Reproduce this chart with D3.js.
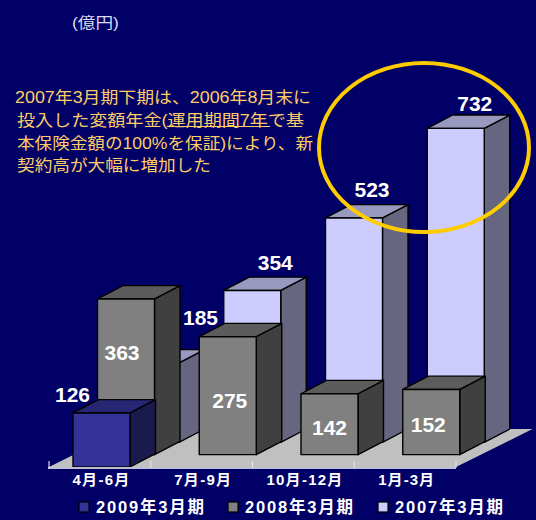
<!DOCTYPE html>
<html><head><meta charset="utf-8">
<script src="https://cdn.jsdelivr.net/npm/d3@7/dist/d3.min.js"></script>
<style>html,body{margin:0;padding:0;background:#000066}svg{display:block}
text{font-family:"Liberation Sans","Noto Sans CJK JP",sans-serif}</style></head>
<body><div id="c"></div>
<script>
const categories = ["4月-6月","7月-9月","10月-12月","1月-3月"];
const seriesNames = ["2009年3月期","2008年3月期","2007年3月期"];
const values2009 = [126,null,null,null];
const values2008 = [363,275,142,152];
const values2007 = [185,354,523,732];
const unitLabel = "(億円)";
const noteLines = ["2007年3月期下期は、2006年8月末に","投入した変額年金(運用期間7年で基","本保険金額の100%を保証)により、新","契約高が大幅に増加した"];
// label nudges from the default position (dx,dy) per series, category
const nudge2009 = [[-29,-11]];
const nudge2008 = [[-4,61],[2,71],[0,41],[-3,43]];
const nudge2007 = [[50,-38],[23,-20],[18,-21],[19,-17]];

const W=536,H=520;
const svg=d3.select("#c").append("svg").attr("width",W).attr("height",H);
svg.append("rect").attr("width",W).attr("height",H).attr("fill","#000066");

const x=d3.scaleBand().domain(categories).range([49,456]);
const h=d3.scaleLinear().domain([0,732]).range([0,314]);
const dxTotal=73.5, dyTotal=37;          // whole floor receding
const rowDx=dxTotal/3, rowDy=dyTotal/3;
const barW=57, inset=24;

// floor
const base=467;
svg.append("polygon").attr("fill","#c0c0c0")
 .attr("points",[[x.range()[0],base],[x.range()[1],base],[x.range()[1]+dxTotal+3,base-dyTotal-1],[x.range()[0]+dxTotal+3,base-dyTotal-1]].join(" "));

const palette=[
 {front:"#333399",side:"#1a1a4d",top:"#262673"},
 {front:"#808080",side:"#404040",top:"#5c5c5c"},
 {front:"#ccccff",side:"#666680",top:"#9999bf"}];
const rows=[values2009,values2008,values2007];
const nudges=[nudge2009,nudge2008,nudge2007];

const g=svg.append("g").attr("stroke","#000").attr("stroke-width",1.4).attr("stroke-linejoin","round");
[2,1,0].forEach(r=>{
  categories.forEach((c,i)=>{
    const v=rows[r][i]; if(v==null) return;
    const x0=x(c)+inset+rowDx*r, x1=x0+barW, yb=base-rowDy*r, yt=yb-h(v);
    const dx=rowDx+1, dy=rowDy+1;
    g.append("polygon").attr("fill",palette[r].side).attr("points",[[x1,yt],[x1+dx,yt-dy],[x1+dx,yb-dy],[x1,yb]].join(" "));
    g.append("polygon").attr("fill",palette[r].top).attr("points",[[x0,yt],[x0+dx,yt-dy],[x1+dx,yt-dy],[x1,yt]].join(" "));
    g.append("rect").attr("x",x0).attr("y",yt).attr("width",barW).attr("height",yb-yt).attr("fill",palette[r].front);
  });
});

// axis
const axisG=svg.append("g").attr("stroke","#fff");
axisG.append("line").attr("x1",x.range()[0]-1).attr("x2",x.range()[1]).attr("y1",base+1).attr("y2",base+1).attr("stroke-width",1.5);
d3.range(5).forEach(i=>{const p=x.range()[0]+x.step()*i;
  axisG.append("line").attr("x1",p).attr("x2",p).attr("y1",base+1).attr("y2",base-6).attr("stroke-width",1).attr("stroke",i==0?"#fff":"#e8e8e8");});
const tickLen=[57,57,76,56];
svg.append("g").selectAll("text").data(categories).join("text")
 .attr("x",d=>x(d)+x.bandwidth()/2+1).attr("y",485).attr("text-anchor","middle")
 .attr("fill","#fff").attr("font-weight","bold").attr("font-size",15)
 .attr("textLength",(d,i)=>tickLen[i]).attr("lengthAdjust","spacing").text(d=>d);

// value labels
[0,1,2].forEach(r=>categories.forEach((c,i)=>{
  const v=rows[r][i]; if(v==null) return;
  const n=nudges[r][i];
  const cx=x(c)+inset+rowDx*r+barW/2, yt=base-rowDy*r-h(v);
  svg.append("text").attr("x",cx+n[0]).attr("y",yt+n[1]).attr("text-anchor","middle")
   .attr("fill","#fff").attr("font-weight","bold").attr("font-size",21).text(v);
}));

// legend
const legX=[78,227,377];
seriesNames.forEach((s,i)=>{
  svg.append("rect").attr("x",legX[i]+1).attr("y",502).attr("width",10).attr("height",10)
    .attr("fill",palette[i].front).attr("stroke","#000").attr("stroke-width",1.2);
  svg.append("text").attr("x",legX[i]+18).attr("y",513).attr("fill","#fff").attr("font-weight","bold").attr("font-size",16.5)
    .attr("textLength",108).attr("lengthAdjust","spacing").text(s);
});

// annotations
svg.append("text").attr("x",72).attr("y",28).attr("fill","#dcdcf0").attr("font-family","'Noto Sans CJK JP'").attr("font-size",15)
  .attr("textLength",47).attr("lengthAdjust","spacingAndGlyphs").text(unitLabel);
const noteX=[15,17,17,17], noteY=[103,126,149,171], noteLen=[296,287,296,194];
noteLines.forEach((t,i)=>svg.append("text").attr("x",noteX[i]).attr("y",noteY[i]).attr("fill","#ffcc66")
  .attr("font-family","'Noto Sans CJK JP'").attr("font-size",16).attr("textLength",noteLen[i]).attr("lengthAdjust","spacingAndGlyphs").text(t));
svg.append("line").attr("x1",167).attr("x2",270).attr("y1",126.5).attr("y2",126.5).attr("stroke","#ffcc66").attr("stroke-width",1);
svg.append("ellipse").attr("cx",424).attr("cy",147.5).attr("rx",105).attr("ry",84.5).attr("fill","none").attr("stroke","#ffcc00").attr("stroke-width",4);
</script></body></html>
